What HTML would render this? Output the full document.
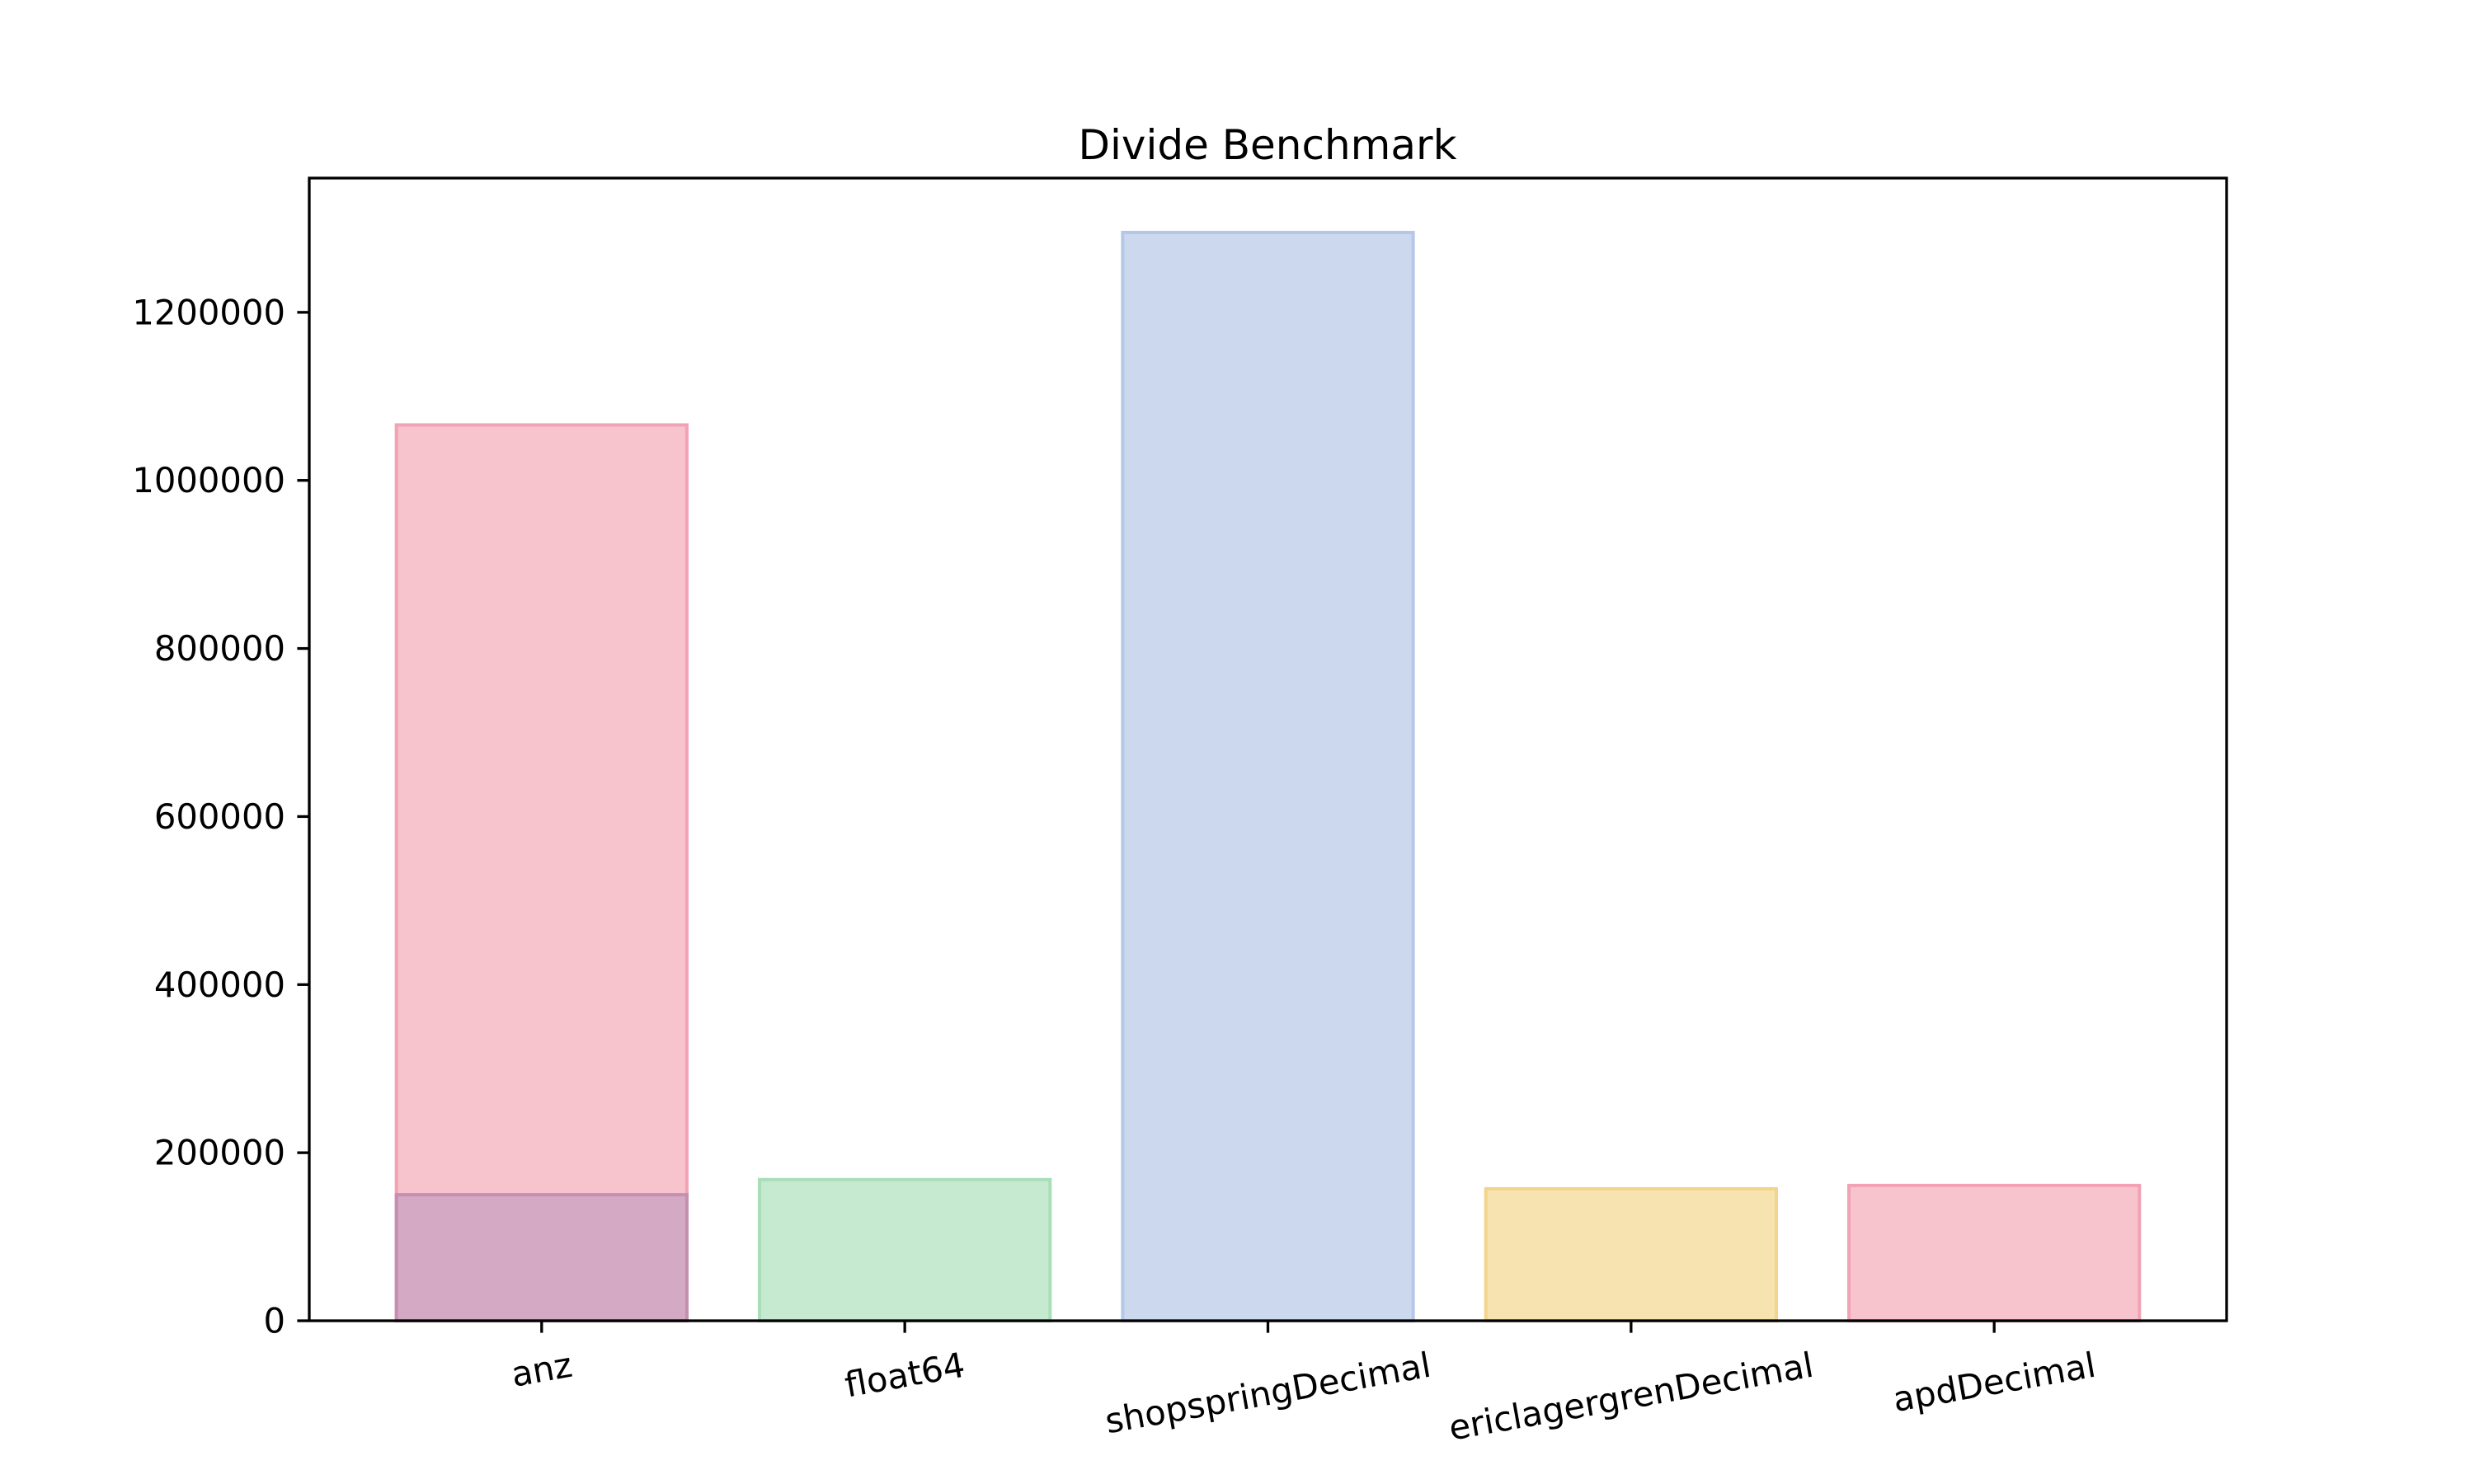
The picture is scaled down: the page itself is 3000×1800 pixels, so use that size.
<!DOCTYPE html>
<html><head><meta charset="utf-8"><style>
html,body{margin:0;padding:0;background:#fff;}
svg{display:block;}
text{font-family:"DejaVu Sans","Liberation Sans",sans-serif;fill:#000;}
</style></head><body>
<svg id="chart" width="3000" height="1800" viewBox="0 0 3000 1800">
<rect x="0" y="0" width="3000" height="1800" fill="#fff"/>
<text x="1537" y="176" font-size="50" text-anchor="middle" dominant-baseline="central">Divide Benchmark</text>
<g id="bars"></g>
<g id="axes"></g>
</svg>
<script>
const categories = ["anz","float64","shopspringDecimal","ericlagergrenDecimal","apdDecimal"];
const values = [1066000, 168000, 1295000, 157000, 161000];
const overlayCategories = ["anz"];
const overlayValues = [150000];
const yTicks = [0,200000,400000,600000,800000,1000000,1200000];
const yTickLabels = ["0","200000","400000","600000","800000","1000000","1200000"];

const fills = ["#f7c4ce","#c5ead0","#ccd8ee","#f7e3b0","#f7c4ce"];
const edges = ["#f2a2b5","#a9deb9","#b5c7e9","#f3d48c","#f2a2b5"];
const L=375,R=2700,T=216,B=1602;
const ymax = Math.max(...values)*1.05;
const xmin=-0.64, xmax=categories.length-1+0.64;
const xs = i => L + (i - xmin)/(xmax - xmin)*(R-L);
const ys = v => B - v/ymax*(B-T);
const NS="http://www.w3.org/2000/svg";
const barsG=document.getElementById('bars'), axG=document.getElementById('axes');
function mk(tag, attrs, parent){const e=document.createElementNS(NS,tag);for(const k in attrs)e.setAttribute(k,attrs[k]);parent.appendChild(e);return e;}
const bw=0.8;
categories.forEach((c,i)=>{
  const x0=xs(i-bw/2), x1=xs(i+bw/2), y=ys(values[i]);
  const r=mk('rect',{x:x0,y:y,width:x1-x0,height:B-y,fill:fills[i],stroke:edges[i],'stroke-width':4},barsG);
  
  
});
overlayCategories.forEach((c,j)=>{
  const i=categories.indexOf(c);
  const x0=xs(i-bw/2), x1=xs(i+bw/2), y=ys(overlayValues[j]);
  const r=mk('rect',{x:x0,y:y,width:x1-x0,height:B-y,fill:"#d4a9c3",stroke:"#c48fb1",'stroke-width':4},barsG);
  
  
});
// spines
const frame=mk('rect',{x:L,y:T,width:R-L,height:B-T,fill:'none',stroke:'#000','stroke-width':3.3},axG);


yTicks.forEach((v,k)=>{
  const y=ys(v);
  const t=mk('line',{x1:L-14.6,x2:L,y1:y,y2:y,stroke:'#000','stroke-width':3.3},axG);
  
  
  const lb=mk('text',{x:L-29,y:y,'font-size':41.7,'text-anchor':'end','dominant-baseline':'central'},axG);
  lb.textContent=yTickLabels[k];
  
  
});
categories.forEach((c,i)=>{
  const x=xs(i);
  const t=mk('line',{x1:x,x2:x,y1:B,y2:B+14.6,stroke:'#000','stroke-width':3.3},axG);
  
  
  const lb=mk('text',{x:0,y:0,'font-size':41.7,'text-anchor':'middle','dominant-baseline':'central'},axG);
  lb.textContent=c;
  
  
  const w=lb.getComputedTextLength();
  const a=10*Math.PI/180, h=48;
  const cy=B+14.6+14.6+(w*Math.sin(a)+h*Math.cos(a))/2;
  lb.setAttribute('transform','translate('+x+','+cy+') rotate(-10)');
});
</script>
</body></html>
